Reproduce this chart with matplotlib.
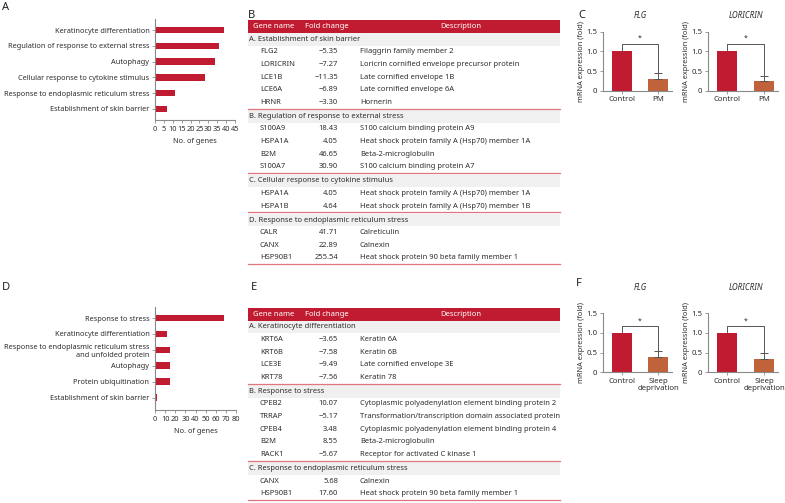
import matplotlib
matplotlib.use('Agg')
import matplotlib.pyplot as plt
from matplotlib.patches import Rectangle
from matplotlib.lines import Line2D

W, H = 785, 503
plt.rcParams['font.family'] = ['Noto Sans', 'DejaVu Sans']
fig = plt.figure(figsize=(W / 100, H / 100), dpi=100)

RED = '#C01B30'
ORANGE = '#C0623A'
TXT = '#2e2e2e'
GRAYSP = '#8a8a8a'
SEPC = '#E07580'
BANDC = '#F0F0F0'

# ---------------- data ----------------
a_terms = ["Keratinocyte differentiation", "Regulation of response to external stress",
           "Autophagy", "Cellular response to cytokine stimulus",
           "Response to endoplasmic reticulum stress", "Establishment of skin barrier"]
a_counts = [39, 36, 34, 28, 11, 7]
a_xticks = [0, 5, 10, 15, 20, 25, 30, 35, 40, 45]

d_terms = ["Response to stress", "Keratinocyte differentiation",
           "Response to endoplasmic reticulum stress\nand unfolded protein",
           "Autophagy", "Protein ubiquitination", "Establishment of skin barrier"]
d_counts = [68, 12, 15, 15, 15, 2]
d_xticks = [0, 10, 20, 30, 40, 50, 60, 70, 80]

table_cols = ["Gene name", "Fold change", "Description"]

b_sections = ["A. Establishment of skin barrier", "B. Regulation of response to external stress",
              "C. Cellular response to cytokine stimulus", "D. Response to endoplasmic reticulum stress"]
b_genes = [["FLG2", "LORICRIN", "LCE1B", "LCE6A", "HRNR"],
           ["S100A9", "HSPA1A", "B2M", "S100A7"],
           ["HSPA1A", "HSPA1B"],
           ["CALR", "CANX", "HSP90B1"]]
b_folds = [[-5.35, -7.27, -11.35, -6.89, -3.30],
           [18.43, 4.05, 46.65, 30.90],
           [4.05, 4.64],
           [41.71, 22.89, 255.54]]
b_desc = [["Filaggrin family member 2", "Loricrin cornified envelope precursor protein",
           "Late cornified envelope 1B", "Late cornified envelope 6A", "Hornerin"],
          ["S100 calcium binding protein A9", "Heat shock protein family A (Hsp70) member 1A",
           "Beta-2-microglobulin", "S100 calcium binding protein A7"],
          ["Heat shock protein family A (Hsp70) member 1A",
           "Heat shock protein family A (Hsp70) member 1B"],
          ["Calreticulin", "Calnexin", "Heat shock protein 90 beta family member 1"]]

e_sections = ["A. Keratinocyte differentiation", "B. Response to stress",
              "C. Response to endoplasmic reticulum stress"]
e_genes = [["KRT6A", "KRT6B", "LCE3E", "KRT78"],
           ["CPEB2", "TRRAP", "CPEB4", "B2M", "RACK1"],
           ["CANX", "HSP90B1"]]
e_folds = [[-3.65, -7.58, -9.49, -7.56],
           [10.07, -5.17, 3.48, 8.55, -5.67],
           [5.68, 17.60]]
e_desc = [["Keratin 6A", "Keratin 6B", "Late cornified envelope 3E", "Keratin 78"],
          ["Cytoplasmic polyadenylation element binding protein 2",
           "Transformation/transcription domain associated protein",
           "Cytoplasmic polyadenylation element binding protein 4",
           "Beta-2-microglobulin", "Receptor for activated C kinase 1"],
          ["Calnexin", "Heat shock protein 90 beta family member 1"]]

expr_groups_c = ["Control", "PM"]
expr_groups_f = ["Control", "Sleep\ndeprivation"]
expr_genes = ["FLG", "LORICRIN"]
c_means = [[1.0, 0.30], [1.0, 0.25]]
c_errs = [[0.0, 0.15], [0.0, 0.13]]
f_means = [[1.0, 0.40], [1.0, 0.35]]
f_errs = [[0.0, 0.15], [0.0, 0.15]]


# ---------------- helpers ----------------
def add_ax(l, t, r, b):
    return fig.add_axes([l / W, 1 - b / H, (r - l) / W, (b - t) / H])


def ptext(x, y, s, **kw):
    kw.setdefault('color', TXT)
    kw.setdefault('va', 'center')
    fig.text(x / W, 1 - y / H, s, **kw)


def style_axes(ax):
    for sp in ['top', 'right']:
        ax.spines[sp].set_visible(False)
    for sp in ['left', 'bottom']:
        ax.spines[sp].set_color(GRAYSP)
        ax.spines[sp].set_linewidth(0.8)
    ax.tick_params(direction='out', length=2.5, width=0.6, color=GRAYSP,
                   labelcolor=TXT, pad=1.5)


def hbar(box, terms, counts, xmax, xticks, ylim):
    ax = add_ax(*box)
    ypos = list(range(len(terms)))[::-1]
    ax.barh(ypos, counts, height=0.42, color=RED)
    ax.set_yticks(ypos)
    ax.set_yticklabels(terms, fontsize=5.3)
    ax.set_xlim(0, xmax)
    ax.set_ylim(*ylim)
    ax.set_xticks(xticks)
    ax.set_xticklabels([str(t) for t in xticks], fontsize=5.3)
    ax.set_xlabel("No. of genes", fontsize=5.3, color=TXT, labelpad=4)
    style_axes(ax)
    return ax


def fmt(v):
    s = f"{v:.2f}"
    return s.replace('-', '\u2212')


FS = 5.45


def table(top, sections, genes, folds, descs):
    L, R = 248, 560
    p = 12.6
    fig.add_artist(Rectangle((L / W, 1 - (top + 13) / H), (R - L) / W, 13 / H,
                             transform=fig.transFigure, color=RED, lw=0))
    hy = top + 6.5
    ptext(253, hy, table_cols[0], color='white', fontsize=5.5)
    ptext(305, hy, table_cols[1], color='white', fontsize=5.5)
    ptext(461, hy, table_cols[2], color='white', fontsize=5.5, ha='center')
    y = top + 13
    for si, title in enumerate(sections):
        if si > 0:
            y += 1.5
        fig.add_artist(Rectangle((L / W, 1 - (y + p) / H), (R - L) / W, p / H,
                                 transform=fig.transFigure, color=BANDC, lw=0))
        ptext(249, y + p / 2, title, fontsize=FS)
        y += p
        for g, f, d in zip(genes[si], folds[si], descs[si]):
            ptext(260, y + p / 2, g, fontsize=FS)
            ptext(338, y + p / 2, fmt(f), fontsize=FS, ha='right')
            ptext(360, y + p / 2, d, fontsize=FS)
            y += p
        fig.add_artist(Line2D([L / W, R / W], [1 - y / H, 1 - y / H],
                              transform=fig.transFigure, color=SEPC, lw=0.9))


def expr(box, title, title_y, groups, means, errs, bracket_y):
    ax = add_ax(*box)
    x = [0, 1]
    ax.bar(x, means, width=0.54, color=[RED, ORANGE])
    ax.errorbar([1], [means[1]], yerr=[[0], [errs[1]]], fmt='none', ecolor='#555555',
                capsize=2.8, elinewidth=0.7, capthick=0.7)
    top1 = means[1] + errs[1]
    ax.plot([0, 0, 1, 1], [means[0] + 0.02, bracket_y, bracket_y, top1 + 0.01],
            color='#555555', lw=0.7, clip_on=False)
    ax.text(0.5, bracket_y + 0.04, '*', ha='center', va='bottom', fontsize=5, color=TXT)
    ax.set_xlim(-0.52, 1.38)
    ax.set_ylim(0, 1.5)
    ax.set_yticks([0, 0.5, 1.0, 1.5])
    ax.set_yticklabels(['0', '0.5', '1.0', '1.5'], fontsize=5.6)
    ax.set_xticks(x)
    ax.set_xticklabels(groups, fontsize=5.6, linespacing=1.0)
    ax.set_ylabel("mRNA expression (fold)", fontsize=5.3, color=TXT, labelpad=1)
    style_axes(ax)
    cx = (box[0] + box[2]) / 2 + 3
    ptext(cx, title_y, title, fontsize=5.8, style='italic', ha='center')
    return ax


# ---------------- panels ----------------
# A
hbar((155, 19, 235, 120), a_terms, a_counts, 45, a_xticks, (-0.7, 5.7))
# D
hbar((155, 307, 236, 410), d_terms, d_counts, 80, d_xticks, (-0.77, 5.69))

# B and E tables
table(20, b_sections, b_genes, b_folds, b_desc)
table(307.5, e_sections, e_genes, e_folds, e_desc)

# C
expr((603, 31.7, 672, 90.7), expr_genes[0], 15, expr_groups_c, c_means[0], c_errs[0], 1.2)
expr((708, 31.7, 778, 90.7), expr_genes[1], 15, expr_groups_c, c_means[1], c_errs[1], 1.2)
# F
expr((603, 313.3, 672, 372.3), expr_genes[0], 287, expr_groups_f, f_means[0], f_errs[0], 1.18)
expr((708, 313.3, 778, 372.3), expr_genes[1], 287, expr_groups_f, f_means[1], f_errs[1], 1.18)

# panel letters
for lab, x, y in [("A", 2, 8), ("B", 248, 15), ("C", 578, 15),
                  ("D", 2, 287), ("E", 251, 287), ("F", 576, 283)]:
    ptext(x, y, lab, fontsize=8, fontweight='bold', color='#222222')

fig.savefig('out.png', dpi=100)
